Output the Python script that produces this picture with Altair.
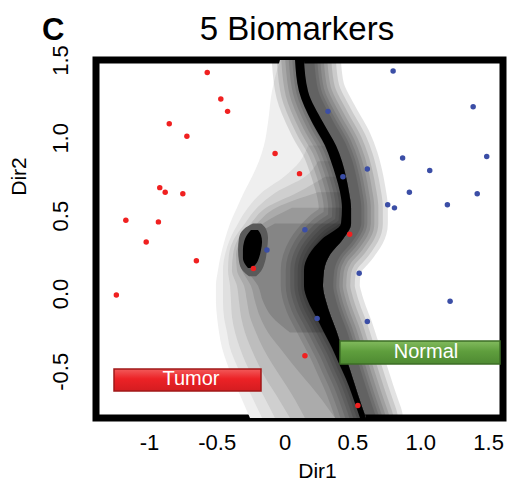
import altair as alt
import pandas as pd

# Sample scores on the two discriminant directions
tumor_dir1 = [-0.57, -0.47, -0.42, -0.85, -0.72, -0.07, 0.11, -0.92, -0.88, -0.75,
              -1.17, -0.93, -1.02, -0.65, -1.24, -0.23, 0.48, 0.15, 0.54]
tumor_dir2 = [1.42, 1.25, 1.17, 1.09, 1.01, 0.90, 0.77, 0.68, 0.65, 0.64,
              0.47, 0.46, 0.33, 0.21, -0.01, 0.16, 0.38, -0.40, -0.72]
normal_dir1 = [0.80, 1.39, 0.32, 1.49, 0.87, 0.61, 1.07, 0.43, 0.92, 1.42,
               0.76, 0.81, 1.20, 0.15, -0.13, 0.55, 1.22, 0.24, 0.61]
normal_dir2 = [1.43, 1.20, 1.17, 0.88, 0.87, 0.80, 0.79, 0.75, 0.65, 0.64,
               0.57, 0.55, 0.57, 0.41, 0.28, 0.13, -0.05, -0.16, -0.18]

# Axis ticks
dir1_ticks = [-1, -0.5, 0, 0.5, 1.0, 1.5]
dir1_tick_labels = ["-1", "-0.5", "0", "0.5", "1.0", "1.5"]
dir2_ticks = [-0.5, 0.0, 0.5, 1.0, 1.5]
dir2_tick_labels = ["-0.5", "0.0", "0.5", "1.0", "1.5"]

# Classifier surface traced row by row along Dir2
row_dir2 = [1.50, 1.30, 1.10, 0.95, 0.85, 0.75, 0.65, 0.55, 0.45, 0.35, 0.25,
            0.15, 0.05, -0.05, -0.15, -0.25, -0.35, -0.45, -0.55, -0.65, -0.80]
# decision boundary band (left and right edge on Dir1)
boundary_left = [0.077, 0.106, 0.202, 0.298, 0.342, 0.379, 0.409, 0.423, 0.416, 0.276, 0.180,
                 0.143, 0.143, 0.173, 0.232, 0.291, 0.350, 0.401, 0.453, 0.497, 0.556]
boundary_right = [0.143, 0.173, 0.283, 0.379, 0.423, 0.453, 0.475, 0.490, 0.490, 0.431, 0.335,
                  0.291, 0.283, 0.305, 0.342, 0.386, 0.423, 0.467, 0.504, 0.541, 0.600]
# core of the falloff around the boundary (leans to the normal side)
falloff_left = [0.127, 0.156, 0.252, 0.348, 0.392, 0.429, 0.459, 0.473, 0.466, 0.326, 0.230,
                0.193, 0.193, 0.223, 0.282, 0.341, 0.400, 0.451, 0.503, 0.547, 0.606]
falloff_right = [0.193, 0.223, 0.333, 0.429, 0.473, 0.503, 0.525, 0.540, 0.540, 0.481, 0.385,
                 0.341, 0.333, 0.355, 0.392, 0.436, 0.473, 0.517, 0.554, 0.591, 0.650]

N = None
# left edge of each contour level of the tumour-side surface, light to dark
level_1 = [-0.034, -0.093, -0.122, -0.152, -0.189, -0.240, -0.299, -0.351, -0.402, -0.439, -0.469,
           -0.491, -0.506, -0.506, -0.498, -0.483, -0.461, -0.424, -0.380, -0.329, -0.255]
level_2 = [N, N, N, 0.173, 0.114, -0.004, -0.166, -0.270, -0.343, -0.402, -0.439,
           -0.454, -0.454, -0.454, -0.447, -0.424, -0.402, -0.358, -0.307, -0.248, -0.166]
level_3 = [N, N, N, N, 0.246, 0.150, -0.063, -0.203, -0.292, -0.373, -0.410,
           -0.417, -0.402, -0.395, -0.388, -0.365, -0.329, -0.284, -0.225, -0.159, -0.071]
level_4 = [N, N, N, N, N, 0.298, 0.099, -0.137, -0.248, -0.343, -0.380,
           -0.388, -0.351, -0.336, -0.321, -0.292, -0.248, -0.196, -0.137, -0.063, 0.040]
level_5 = [N, N, N, N, N, N, 0.246, -0.063, -0.203, -0.314, -0.358,
           -0.351, -0.299, -0.277, -0.255, -0.211, -0.159, -0.093, -0.019, 0.055, 0.150]
level_6 = [N, N, N, N, N, N, N, 0.055, -0.159, -0.284, -0.336,
           -0.314, -0.248, -0.218, -0.181, -0.122, -0.034, 0.055, 0.150, 0.246, 0.372]
level_7 = [N, N, N, N, N, N, N, N, -0.071, -0.255, -0.314,
           -0.277, -0.196, -0.159, -0.093, 0.040, N, N, N, N, N]
level_shades = ["#efefef", "#e0e0e0", "#cfcfcf", "#bdbdbd", "#ababab", "#999999", "#858585"]

# isolated peak of the tumour-side surface
peak_ring_dir2 = [0.450, 0.415, 0.356, 0.279, 0.205, 0.145, 0.110]
peak_ring_left = [-0.233, -0.299, -0.336, -0.343, -0.336, -0.307, -0.262]
peak_ring_right = [-0.173, -0.137, -0.122, -0.130, -0.144, -0.173, -0.210]
peak_dir2 = [0.408, 0.376, 0.331, 0.279, 0.228, 0.189, 0.164]
peak_left = [-0.248, -0.277, -0.299, -0.307, -0.307, -0.292, -0.270]
peak_right = [-0.196, -0.174, -0.166, -0.174, -0.189, -0.211, -0.240]

FONT = "Liberation Sans"


def label_expr(values, labels):
    parts = [f"datum.value == {v} ? '{t}'" for v, t in zip(values, labels)]
    return " : ".join(parts) + " : ''"


x_scale = alt.Scale(domain=[-1.39, 1.61], nice=False, zero=False)
y_scale = alt.Scale(domain=[-0.80, 1.50], nice=False, zero=False)

x_axis = alt.Axis(values=dir1_ticks, labelExpr=label_expr(dir1_ticks, dir1_tick_labels),
                  ticks=False, domain=False, grid=False, labelFlush=False,
                  labelFont=FONT, labelFontSize=22, labelColor="black", labelPadding=14,
                  title="Dir1", titleFont=FONT, titleFontSize=21, titleFontWeight="normal",
                  titleColor="black", titleX=221, titleY=59, titleAlign="center",
                  titleBaseline="alphabetic")
y_axis = alt.Axis(values=dir2_ticks, labelExpr=label_expr(dir2_ticks, dir2_tick_labels),
                  ticks=False, domain=False, grid=False, labelFlush=False,
                  labelAngle=270, labelAlign="center", labelBaseline="bottom",
                  labelFont=FONT, labelFontSize=22, labelColor="black", labelPadding=24,
                  title="Dir2", titleFont=FONT, titleFontSize=21, titleFontWeight="normal",
                  titleColor="black", titleX=-71, titleY=116, titleAngle=270,
                  titleAlign="center", titleBaseline="alphabetic")


def X(field="x"):
    return alt.X(f"{field}:Q", scale=x_scale, axis=x_axis)


def Y(field="y"):
    return alt.Y(f"{field}:Q", scale=y_scale, axis=y_axis)


def band_frame(ys, left, right):
    rows = [(y, a, b) for y, a, b in zip(ys, left, right) if a is not None]
    return pd.DataFrame(rows, columns=["y", "x", "x2"])


def band(df, **style):
    return alt.Chart(df).mark_area(orient="horizontal", interpolate="monotone",
                                   clip=True, **style).encode(
        y=Y(), x=X(), x2="x2:Q")


layers = []

# contour levels of the tumour side
for left, shade in zip([level_1, level_2, level_3, level_4, level_5, level_6, level_7],
                       level_shades):
    layers.append(band(band_frame(row_dir2, left, boundary_right), color=shade))

# stepped falloff on both sides of the decision boundary
falloff_df = band_frame(row_dir2, falloff_left, falloff_right)
for w in [60, 50, 41, 33, 26, 19, 13, 7]:
    layers.append(band(falloff_df, color="black", stroke="black", strokeWidth=w,
                       strokeJoin="round", opacity=0.105))

layers.append(band(band_frame(peak_ring_dir2, peak_ring_left, peak_ring_right), color="#5a5a5a"))
layers.append(band(band_frame(peak_dir2, peak_left, peak_right), color="black"))
layers.append(band(band_frame(row_dir2, boundary_left, boundary_right), color="black"))

# samples
tumor_df = pd.DataFrame({"x": tumor_dir1, "y": tumor_dir2})
normal_df = pd.DataFrame({"x": normal_dir1, "y": normal_dir2})
layers.append(alt.Chart(normal_df).mark_circle(size=30, opacity=1, color="#3b4ea6")
              .encode(x=X(), y=Y()))
layers.append(alt.Chart(tumor_df).mark_circle(size=30, opacity=1, color="#f02020")
              .encode(x=X(), y=Y()))

# class labels
one = pd.DataFrame({"k": [0]})


def gradient(stops):
    return alt.Gradient(gradient="linear", x1=0, x2=0, y1=0, y2=1,
                        stops=[alt.GradientStop(color=c, offset=o) for c, o in stops])


layers.append(alt.Chart(one).mark_rect(
    color=gradient([("#f25a5a", 0), ("#ec2226", 0.45), ("#d41c20", 1)]),
    stroke="#a01818", strokeWidth=1.5).encode(
    x=alt.value(18), x2=alt.value(165), y=alt.value(309), y2=alt.value(331)))
layers.append(alt.Chart(one).mark_text(
    text="Tumor", color="white", font=FONT, fontSize=20, align="center",
    baseline="alphabetic").encode(x=alt.value(95), y=alt.value(325)))

layers.append(alt.Chart(one).mark_rect(
    color=gradient([("#82bb5e", 0), ("#5f9e3d", 0.45), ("#4e8a32", 1)]),
    stroke="#3d6e26", strokeWidth=1.5).encode(
    x=alt.value(244), x2=alt.value(404), y=alt.value(281), y2=alt.value(304)))
layers.append(alt.Chart(one).mark_text(
    text="Normal", color="white", font=FONT, fontSize=20, align="center",
    baseline="alphabetic").encode(x=alt.value(330), y=alt.value(298)))

# panel letter and heading
layers.append(alt.Chart(one).mark_text(
    text="C", color="black", font=FONT, fontSize=31, fontWeight="bold", align="left",
    baseline="alphabetic").encode(x=alt.value(-54), y=alt.value(-20)))
layers.append(alt.Chart(one).mark_text(
    text="5 Biomarkers", color="black", font=FONT, fontSize=33, align="center",
    baseline="alphabetic").encode(x=alt.value(201), y=alt.value(-20)))

chart = alt.layer(*layers).properties(
    width=407, height=358,
    autosize=alt.AutoSizeParams(type="none"),
    padding={"left": 96, "top": 60, "right": 5, "bottom": 65},
    background="white",
).configure_view(stroke="black", strokeWidth=7)

chart.save("out.html", embed_options={"renderer": "svg", "actions": False})
